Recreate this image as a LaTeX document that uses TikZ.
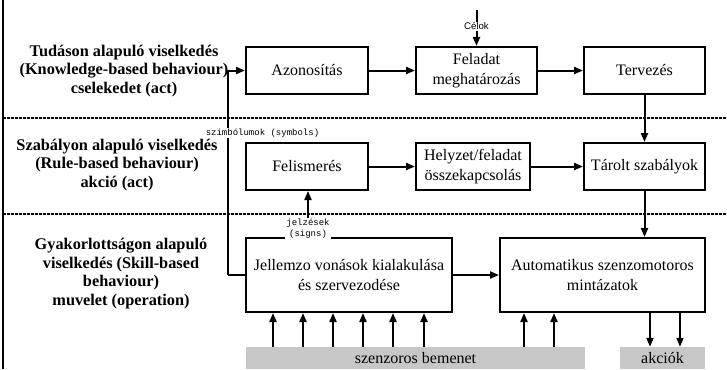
\documentclass[tikz,border=0pt]{standalone}
\usepackage{fontspec}
\setmainfont{Liberation Serif}
\newfontfamily\labelsans{Liberation Sans}
\newfontfamily\labelmono{Liberation Mono}
\usetikzlibrary{arrows.meta}
\tikzset{
  boxnode/.style={draw, line width=2pt, align=center, inner sep=2pt,
    font=\fontsize{16}{20}\selectfont},
  levellabel/.style={align=center, inner sep=0pt,
    font=\fontsize{16.3}{18.5}\selectfont\bfseries},
  arr/.style={line width=2pt, -{Triangle[length=9pt,width=7pt]}},
  conn/.style={line width=2pt},
  sep/.style={line width=2pt, dash pattern=on 3pt off 1pt},
  smalltag/.style={fill=white, inner sep=1pt, align=center,
    font=\labelmono\fontsize{9}{11}\selectfont},
  bar/.style={fill=black!22, draw=none, inner sep=0pt,
    font=\fontsize{16}{18}\selectfont}
}
\begin{document}
\begin{tikzpicture}[x=1pt,y=-1pt]
\useasboundingbox (0,0) rectangle (727,369);

% frame on the left and level separators
\draw[line width=2.4pt] (3,0) -- (3,369);
\draw[sep] (3,118) -- (727,118);
\draw[sep] (3,214) -- (727,214);

% level descriptions
\node[levellabel] (lvlk) at (124,71) {Tudáson alapuló viselkedés\\(Knowledge-based behaviour)\\cselekedet (act)};
\node[levellabel] (lvlr) at (117,165) {Szabályon alapuló viselkedés\\(Rule-based behaviour)\\akció (act)};
\node[levellabel] (lvls) at (121,273.5) {Gyakorlottságon alapuló\\viselkedés (Skill-based\\behaviour)\\muvelet (operation)};

% knowledge-based level
\node[boxnode, minimum width=122pt, minimum height=47pt] (azon) at (307,70.5) {Azonosítás};
\node[boxnode, minimum width=121pt, minimum height=47pt] (felad) at (476.5,70.5) {Feladat\\meghatározás};
\node[boxnode, minimum width=121pt, minimum height=47pt] (terv) at (644.5,70.5) {Tervezés};

% rule-based level
\node[boxnode, minimum width=122pt, minimum height=47pt] (felism) at (307,166.5) {Felismerés};
\node[boxnode, minimum width=114pt, minimum height=47pt] (helyzet) at (473,166.5) {Helyzet/feladat\\összekapcsolás};
\node[boxnode, minimum width=121pt, minimum height=47pt] (tarolt) at (644.5,166.5) {Tárolt szabályok};

% skill-based level
\node[boxnode, minimum width=206pt, minimum height=74pt] (jell) at (349,275) {Jellemzo vonások kialakulása\\és szervezodése};
\node[boxnode, minimum width=205pt, minimum height=74pt] (auto) at (602.5,275) {Automatikus szenzomotoros\\mintázatok};

% input and output bars
\node[bar, minimum width=339pt, minimum height=22pt] (inbar) at (415.5,358) {szenzoros bemenet};
\node[bar, minimum width=85pt, minimum height=22pt] (outbar) at (662.5,358) {akciók};

% goals
\coordinate (goaltop) at (476.5,10);
\node[font=\labelsans\fontsize{9.6}{11}\selectfont, inner sep=1pt] (celok) at (476.5,26.5) {Célok};
\draw[line width=2pt] (goaltop) -- (celok.north);
\draw[arr] (celok.south) -- (felad.north);

% horizontal flow
\draw[arr] (azon) -- (felad);
\draw[arr] (felad) -- (terv);
\draw[arr] (felism) -- (helyzet);
\draw[arr] (helyzet) -- (tarolt);
\draw[arr] (jell.east) -- (auto.west);

% vertical flow on the right
\draw[arr] (terv.south) -- (tarolt.north);
\draw[arr] (tarolt.south) -- (tarolt.south |- auto.north);

% symbols path on the left
\coordinate (symturn) at (228,275);
\draw[conn] (jell.west) -- (symturn);
\draw[arr] (symturn) |- (azon.west);
\node[smalltag] (symlbl) at (262.5,133) {szimbólumok (symbols)};

% signs path
\draw[arr] (jell.north -| 308,0) -- (felism.south -| 308,0);
\node[smalltag, inner ysep=0.5pt] (signlbl) at (308,228.5) {jelzések\\(signs)};

% sensory inputs
\foreach \xi in {273,303,333,363,393,424}
  \draw[arr] (inbar.north -| \xi,0) -- (jell.south -| \xi,0);
\foreach \xi in {524,554}
  \draw[arr] (inbar.north -| \xi,0) -- (auto.south -| \xi,0);

% actions
\foreach \xi in {650,680}
  \draw[arr] (auto.south -| \xi,0) -- (outbar.north -| \xi,0);
\end{tikzpicture}
\end{document}
